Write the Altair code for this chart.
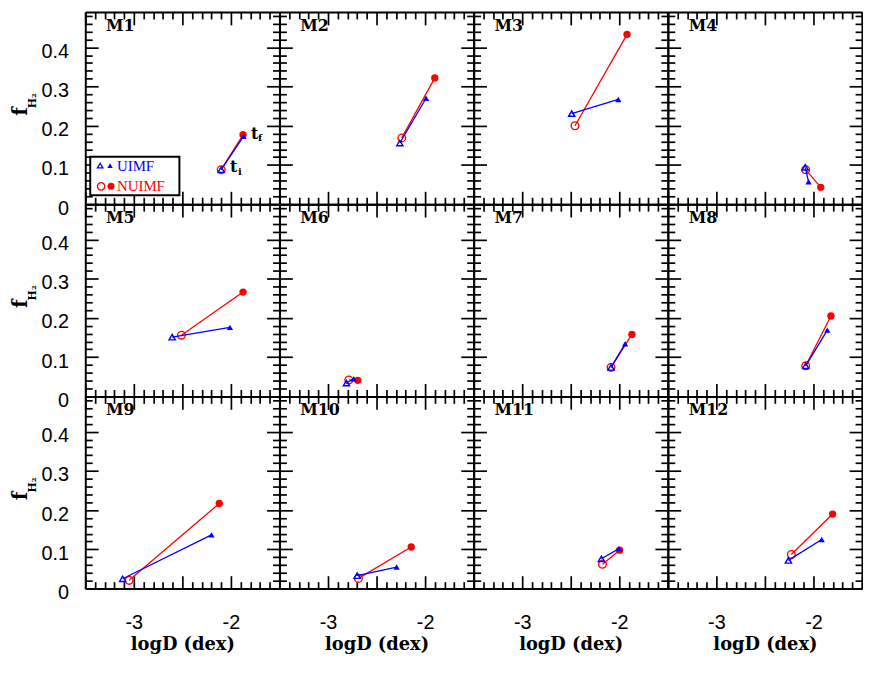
import altair as alt
import pandas as pd

# ---------------- data ----------------
panels = ["M1", "M2", "M3", "M4", "M5", "M6", "M7", "M8", "M9", "M10", "M11", "M12"]

# UIMF (blue triangles): initial t_i (open) and final t_f (filled)
uimf_logd_i = [-2.10, -2.26, -2.49, -2.085, -2.605, -2.81, -2.085, -2.08, -3.115, -2.70, -2.184, -2.258]
uimf_f_i    = [0.088, 0.156, 0.231, 0.094, 0.151, 0.034, 0.074, 0.078, 0.025, 0.033, 0.076, 0.072]
uimf_logd_f = [-1.87, -1.99, -2.01, -2.05, -2.01, -2.735, -1.94, -1.857, -2.20, -2.293, -2.003, -1.915]
uimf_f_f    = [0.173, 0.270, 0.267, 0.057, 0.176, 0.045, 0.134, 0.169, 0.137, 0.055, 0.102, 0.125]

# NUIMF (red circles): initial t_i (open) and final t_f (filled)
nuimf_logd_i = [-2.10, -2.24, -2.456, -2.08, -2.51, -2.786, -2.085, -2.08, -3.048, -2.687, -2.173, -2.228]
nuimf_f_i    = [0.088, 0.169, 0.200, 0.088, 0.156, 0.042, 0.074, 0.078, 0.021, 0.026, 0.062, 0.087]
nuimf_logd_f = [-1.875, -1.90, -1.92, -1.925, -1.875, -2.694, -1.87, -1.82, -2.12, -2.143, -1.997, -1.803]
nuimf_f_f    = [0.177, 0.322, 0.433, 0.043, 0.266, 0.041, 0.158, 0.205, 0.217, 0.106, 0.098, 0.190]

x_label_values = [-3, -2]
y_label_values = [0, 0.1, 0.2, 0.3, 0.4]
x_tick_values = [round(-3.5 + 0.1 * i, 1) for i in range(21)]
y_tick_values = [round(0.02 * i, 2) for i in range(25)]

rows = []
for k, p in enumerate(panels):
    rows.append(dict(panel=p, imf="UIMF", stage="i", logD=uimf_logd_i[k], f=uimf_f_i[k]))
    rows.append(dict(panel=p, imf="UIMF", stage="f", logD=uimf_logd_f[k], f=uimf_f_f[k]))
    rows.append(dict(panel=p, imf="NUIMF", stage="i", logD=nuimf_logd_i[k], f=nuimf_f_i[k]))
    rows.append(dict(panel=p, imf="NUIMF", stage="f", logD=nuimf_logd_f[k], f=nuimf_f_f[k]))
df = pd.DataFrame(rows)

# ---------------- styling ----------------
W, H = 196, 194
SANS = "Liberation Sans"
SERIF = "DejaVu Serif"
TIMES = "Liberation Serif"
RED, BLUE = "#ff0000", "#0000ff"

x_scale = alt.Scale(domain=[-3.5, -1.5], nice=False, zero=False)
y_scale = alt.Scale(domain=[0, 0.49], nice=False, zero=False)

X_MAJOR = "abs(datum.value*2 - round(datum.value*2)) < 0.001"
Y_MAJOR = "abs(datum.value*10 - round(datum.value*10)) < 0.001"


def tick_axis(orient, values, test):
    return alt.Axis(
        orient=orient, values=values, labels=False, title=None, grid=False,
        domain=True, domainColor="black", domainWidth=2,
        ticks=True, tickColor="black", tickWidth=1.7,
        tickSize={"condition": {"test": test, "value": -13}, "value": -7},
    )


x_label_axis = alt.Axis(
    orient="bottom", values=x_label_values, ticks=False, domain=False, grid=False,
    labelExpr="'' + datum.value", labelFont=SANS, labelFontSize=20, labelColor="black",
    labelPadding=24, labelFlush=False,
    title="logD (dex)", titleFont=SERIF, titleFontWeight="bold", titleFontSize=18,
    titleColor="black", titlePadding=3,
)

y_label_axis = alt.Axis(
    orient="left", values=y_label_values, ticks=False, domain=False, grid=False,
    labelExpr="datum.value == 0 ? '0' : format(datum.value, '.1f')",
    labelFont=SANS, labelFontSize=20, labelColor="black", labelPadding=17,
    labelOffset=4, labelBaseline="middle",
    title="f", titleFont=SERIF, titleFontWeight="bold", titleFontSize=20, titleColor="black",
    titleAngle=270, titleAlign="center", titleBaseline="alphabetic",
    titleX=-59, titleY=100,
)

y_sub_axis = alt.Axis(
    orient="left", ticks=False, domain=False, grid=False, labels=False,
    title="H₂", titleFont=SERIF, titleFontWeight="bold", titleFontSize=11, titleColor="black",
    titleAngle=270, titleAlign="center", titleBaseline="alphabetic",
    titleX=-50, titleY=89,
)


def make_panel(k):
    p = panels[k]
    col, row = k % 4, k // 4
    d = df[df.panel == p]
    base = alt.Chart(d)

    def ex(axis):
        return alt.X("logD:Q", scale=x_scale, axis=axis)

    def ey(axis):
        return alt.Y("f:Q", scale=y_scale, axis=axis)

    red_line = base.transform_filter(alt.datum.imf == "NUIMF").mark_line(
        color=RED, strokeWidth=1.3
    ).encode(x=ex(tick_axis("bottom", x_tick_values, X_MAJOR)),
             y=ey(tick_axis("left", y_tick_values, Y_MAJOR)))

    red_open = base.transform_filter(
        (alt.datum.imf == "NUIMF") & (alt.datum.stage == "i")
    ).mark_point(shape="circle", filled=False, color=RED, size=60, strokeWidth=1.4, opacity=1).encode(
        x=ex(x_label_axis if row == 2 else None),
        y=ey(y_label_axis if col == 0 else None))

    red_fill = base.transform_filter(
        (alt.datum.imf == "NUIMF") & (alt.datum.stage == "f")
    ).mark_point(shape="circle", filled=True, color=RED, size=55, opacity=1).encode(
        x=ex(None), y=ey(y_sub_axis if col == 0 else None))

    blue_line = base.transform_filter(alt.datum.imf == "UIMF").mark_line(
        color=BLUE, strokeWidth=1.3
    ).encode(x=ex(tick_axis("top", x_tick_values, X_MAJOR)),
             y=ey(tick_axis("right", y_tick_values, Y_MAJOR)))

    blue_open = base.transform_filter(
        (alt.datum.imf == "UIMF") & (alt.datum.stage == "i")
    ).mark_point(shape="triangle-up", filled=False, color=BLUE, size=40, strokeWidth=1.4, opacity=1).encode(
        x=ex(None), y=ey(None))

    blue_fill = base.transform_filter(
        (alt.datum.imf == "UIMF") & (alt.datum.stage == "f")
    ).mark_point(shape="triangle-up", filled=True, color=BLUE, size=40, opacity=1).encode(
        x=ex(None), y=ey(None))

    name = alt.Chart(pd.DataFrame({"name": [p]})).mark_text(
        align="left", baseline="middle", font=SERIF, fontWeight="bold", fontSize=16, color="black"
    ).encode(text="name:N", x=alt.value(21), y=alt.value(14))

    layers = [red_line, red_open, red_fill, blue_line, blue_open, blue_fill, name]

    if k == 0:
        one = pd.DataFrame({"a": [0]})
        box = alt.Chart(one).mark_rect(fill="white", stroke="black", strokeWidth=2).encode(
            x=alt.value(5), x2=alt.value(95), y=alt.value(146), y2=alt.value(185))
        sym = []
        for (sx, sy, shp, filled, colr, sz) in [
            (15, 155, "triangle-up", False, BLUE, 30),
            (25, 155, "triangle-up", True, BLUE, 30),
            (16, 176, "circle", False, RED, 55),
            (26, 176, "circle", True, RED, 50),
        ]:
            sym.append(alt.Chart(one).mark_point(
                shape=shp, filled=filled, color=colr, size=sz, strokeWidth=1.3, opacity=1
            ).encode(x=alt.value(sx), y=alt.value(sy)))
        txt_u = alt.Chart(pd.DataFrame({"t": ["UIMF"]})).mark_text(
            align="left", baseline="middle", font=TIMES, fontSize=15, color=BLUE
        ).encode(text="t:N", x=alt.value(32), y=alt.value(155))
        txt_n = alt.Chart(pd.DataFrame({"t": ["NUIMF"]})).mark_text(
            align="left", baseline="middle", font=TIMES, fontSize=15, color=RED
        ).encode(text="t:N", x=alt.value(32), y=alt.value(176))

        fin = d[(d.imf == "NUIMF") & (d.stage == "f")].assign(t="t", s="f")
        ini = d[(d.imf == "NUIMF") & (d.stage == "i")].assign(t="t", s="i")
        tf = alt.Chart(fin).mark_text(align="left", baseline="middle", font=SERIF, fontWeight="bold",
                                      fontSize=16, dx=8, dy=-1).encode(
            x=ex(None), y=ey(None), text="t:N")
        tf_s = alt.Chart(fin).mark_text(align="left", baseline="middle", font=SERIF, fontWeight="bold",
                                        fontSize=10, dx=15, dy=3).encode(
            x=ex(None), y=ey(None), text="s:N")
        ti = alt.Chart(ini).mark_text(align="left", baseline="middle", font=SERIF, fontWeight="bold",
                                      fontSize=16, dx=9, dy=-3).encode(
            x=ex(None), y=ey(None), text="t:N")
        ti_s = alt.Chart(ini).mark_text(align="left", baseline="middle", font=SERIF, fontWeight="bold",
                                        fontSize=10, dx=17, dy=2).encode(
            x=ex(None), y=ey(None), text="s:N")
        layers += [box] + sym + [txt_u, txt_n, tf, tf_s, ti, ti_s]

    return alt.layer(*layers).resolve_axis(x="independent", y="independent").properties(
        width=W, height=H)


chart = alt.concat(*[make_panel(k) for k in range(12)], columns=4, spacing=0, bounds="flush").properties(
    padding={"left": 3, "top": 0, "right": 0, "bottom": 0}
).configure_view(stroke=None).configure_axis(minExtent=0)

chart.save("out.html", embed_options={"renderer": "svg", "actions": False})
